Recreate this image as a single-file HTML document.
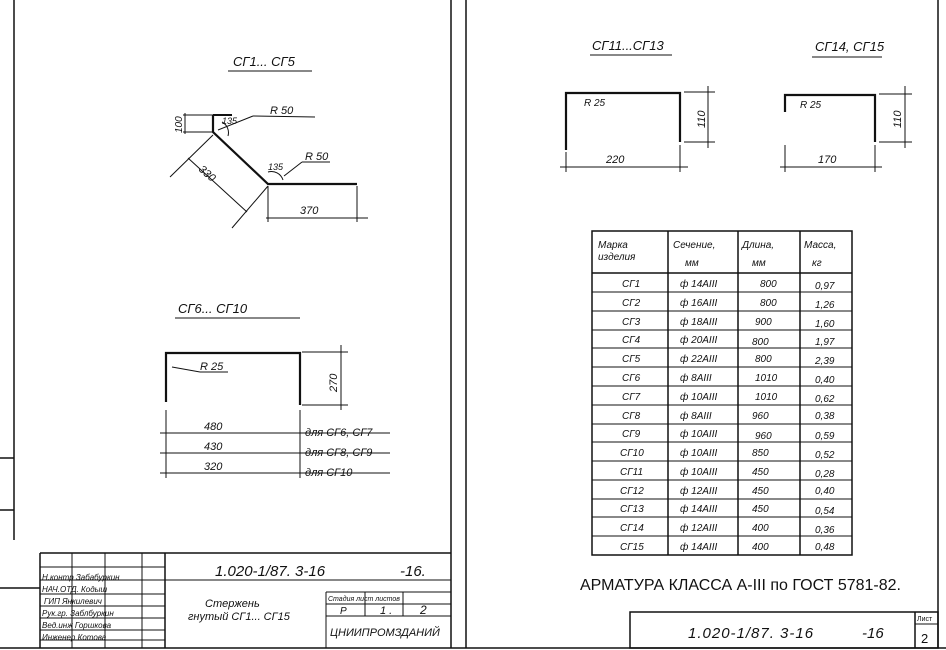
<!DOCTYPE html>
<html><head><meta charset="utf-8"><style>
html,body{margin:0;padding:0;background:#fff;}
svg{display:block;font-family:"Liberation Sans",sans-serif;font-style:italic;}
text{fill:#111;}
</style></head><body>
<svg width="946" height="650" viewBox="0 0 946 650" xmlns="http://www.w3.org/2000/svg">
<g stroke="#111" fill="none" stroke-width="1.5">
<line x1="14" y1="0" x2="14" y2="540"/>
<line x1="40" y1="553" x2="40" y2="648"/>
<line x1="451" y1="0" x2="451" y2="648"/>
<line x1="466" y1="0" x2="466" y2="648"/>
<line x1="938" y1="0" x2="938" y2="648"/>
<line x1="0" y1="648" x2="946" y2="648"/>
<line x1="0" y1="588" x2="40" y2="588"/>
<line x1="0" y1="458" x2="14" y2="458"/>
<line x1="0" y1="510" x2="14" y2="510"/>
<line x1="228" y1="71" x2="312" y2="71" stroke-width="1"/>
<polyline points="213,115 213,132 268,184 357,184" stroke-width="2.2"/>
<line x1="213" y1="115" x2="232" y2="115" stroke-width="2"/>
<line x1="185" y1="113" x2="185" y2="134" stroke-width="1"/>
<line x1="183" y1="115" x2="213" y2="115" stroke-width="1"/>
<line x1="183" y1="132" x2="213" y2="132" stroke-width="1"/>
<line x1="170" y1="177" x2="213" y2="135" stroke-width="1"/>
<line x1="232" y1="228" x2="268" y2="186" stroke-width="1"/>
<line x1="188" y1="158" x2="247" y2="212" stroke-width="1"/>
<line x1="268" y1="186" x2="268" y2="222" stroke-width="1"/>
<line x1="357" y1="186" x2="357" y2="222" stroke-width="1"/>
<line x1="266" y1="218" x2="368" y2="218" stroke-width="1"/>
<line x1="218" y1="130" x2="253" y2="116" stroke-width="1"/>
<line x1="253" y1="116" x2="315" y2="117" stroke-width="1"/>
<line x1="284" y1="176" x2="302" y2="162" stroke-width="1"/>
<line x1="302" y1="162" x2="330" y2="162" stroke-width="1"/>
<path d="M268,172 A12,12 0 0 1 283,180" stroke-width="1"/>
<path d="M222,122 A12,12 0 0 1 228,136" stroke-width="1"/>
<line x1="175" y1="318" x2="300" y2="318" stroke-width="1"/>
<polyline points="166,402 166,353 300,353 300,405" stroke-width="2.2"/>
<line x1="302" y1="352" x2="348" y2="352" stroke-width="1"/>
<line x1="302" y1="405" x2="348" y2="405" stroke-width="1"/>
<line x1="341" y1="345" x2="341" y2="410" stroke-width="1"/>
<line x1="172" y1="367" x2="200" y2="372" stroke-width="1"/>
<line x1="200" y1="372" x2="228" y2="372" stroke-width="1"/>
<line x1="160" y1="433" x2="390" y2="433" stroke-width="1"/>
<line x1="160" y1="453" x2="390" y2="453" stroke-width="1"/>
<line x1="160" y1="473" x2="390" y2="473" stroke-width="1"/>
<line x1="166" y1="410" x2="166" y2="478" stroke-width="1"/>
<line x1="300" y1="410" x2="300" y2="478" stroke-width="1"/>
<line x1="590" y1="55" x2="672" y2="55" stroke-width="1"/>
<polyline points="566,150 566,93 680,93 680,142" stroke-width="2.2"/>
<line x1="684" y1="92" x2="715" y2="92" stroke-width="1"/>
<line x1="684" y1="142" x2="715" y2="142" stroke-width="1"/>
<line x1="708" y1="86" x2="708" y2="148" stroke-width="1"/>
<line x1="566" y1="152" x2="566" y2="172" stroke-width="1"/>
<line x1="680" y1="145" x2="680" y2="172" stroke-width="1"/>
<line x1="560" y1="167" x2="688" y2="167" stroke-width="1"/>
<line x1="812" y1="57" x2="882" y2="57" stroke-width="1"/>
<polyline points="785,112 785,95 875,95 875,142" stroke-width="2.2"/>
<line x1="879" y1="94" x2="912" y2="94" stroke-width="1"/>
<line x1="879" y1="142" x2="912" y2="142" stroke-width="1"/>
<line x1="905" y1="86" x2="905" y2="148" stroke-width="1"/>
<line x1="785" y1="145" x2="785" y2="172" stroke-width="1"/>
<line x1="875" y1="145" x2="875" y2="172" stroke-width="1"/>
<line x1="780" y1="167" x2="882" y2="167" stroke-width="1"/>
<rect x="592" y="231" width="260" height="324" stroke-width="1.5"/>
<line x1="668" y1="231" x2="668" y2="555"/><line x1="738" y1="231" x2="738" y2="555"/><line x1="800" y1="231" x2="800" y2="555"/>
<line x1="592" y1="273" x2="852" y2="273"/>
<g stroke-width="1">
<line x1="592" y1="292" x2="852" y2="292"/><line x1="592" y1="311" x2="852" y2="311"/><line x1="592" y1="330" x2="852" y2="330"/>
<line x1="592" y1="348" x2="852" y2="348"/><line x1="592" y1="367" x2="852" y2="367"/><line x1="592" y1="386" x2="852" y2="386"/>
<line x1="592" y1="405" x2="852" y2="405"/><line x1="592" y1="424" x2="852" y2="424"/><line x1="592" y1="442" x2="852" y2="442"/>
<line x1="592" y1="461" x2="852" y2="461"/><line x1="592" y1="480" x2="852" y2="480"/><line x1="592" y1="499" x2="852" y2="499"/>
<line x1="592" y1="517" x2="852" y2="517"/><line x1="592" y1="536" x2="852" y2="536"/>
</g>
<rect x="630" y="612" width="308" height="36"/>
<line x1="915" y1="612" x2="915" y2="648"/>
<line x1="915" y1="624" x2="938" y2="624" stroke-width="1"/>
<line x1="40" y1="553" x2="451" y2="553"/>
<line x1="165" y1="553" x2="165" y2="648"/>
<line x1="40" y1="567" x2="165" y2="567" stroke-width="1"/>
<line x1="40" y1="580" x2="451" y2="580" stroke-width="1"/>
<line x1="72" y1="553" x2="72" y2="648" stroke-width="1"/>
<line x1="105" y1="553" x2="105" y2="648" stroke-width="1"/>
<line x1="142" y1="553" x2="142" y2="648" stroke-width="1"/>
<line x1="40" y1="594" x2="165" y2="594" stroke-width="1"/>
<line x1="40" y1="606" x2="165" y2="606" stroke-width="1"/>
<line x1="40" y1="618" x2="165" y2="618" stroke-width="1"/>
<line x1="40" y1="630" x2="165" y2="630" stroke-width="1"/>
<line x1="40" y1="640" x2="165" y2="640" stroke-width="1"/>
<line x1="326" y1="592" x2="451" y2="592" stroke-width="1"/>
<line x1="326" y1="604" x2="451" y2="604" stroke-width="1"/>
<line x1="326" y1="616" x2="451" y2="616" stroke-width="1"/>
<line x1="326" y1="592" x2="326" y2="648" stroke-width="1"/>
<line x1="365" y1="592" x2="365" y2="616" stroke-width="1"/>
<line x1="403" y1="592" x2="403" y2="616" stroke-width="1"/>
</g>
<g font-size="13">
<text x="233" y="66">СГ1... СГ5</text>
<text x="270" y="114" font-size="11">R 50</text>
<text x="305" y="160" font-size="11">R 50</text>
<text x="222" y="124" font-size="9">135</text>
<text x="268" y="170" font-size="9">135</text>
<text x="182" y="133" font-size="10" transform="rotate(-90 182 133)">100</text>
<text x="198" y="170" font-size="11" transform="rotate(42 198 170)">330</text>
<text x="300" y="214" font-size="11">370</text>
<text x="178" y="313">СГ6... СГ10</text>
<text x="200" y="370" font-size="11">R 25</text>
<text x="337" y="392" font-size="11" transform="rotate(-90 337 392)">270</text>
<text x="204" y="430" font-size="11">480</text>
<text x="204" y="450" font-size="11">430</text>
<text x="204" y="470" font-size="11">320</text>
<text x="305" y="436" font-size="11">для СГ6, СГ7</text>
<text x="305" y="456" font-size="11">для СГ8, СГ9</text>
<text x="305" y="476" font-size="11">для СГ10</text>
<text x="592" y="50">СГ11...СГ13</text>
<text x="584" y="106" font-size="10">R 25</text>
<text x="705" y="128" font-size="11" transform="rotate(-90 705 128)">110</text>
<text x="606" y="163" font-size="11">220</text>
<text x="815" y="51">СГ14, СГ15</text>
<text x="800" y="108" font-size="10">R 25</text>
<text x="901" y="128" font-size="11" transform="rotate(-90 901 128)">110</text>
<text x="818" y="163" font-size="11">170</text>
</g>
<g font-size="10">
<text x="598" y="248">Марка</text><text x="598" y="260">изделия</text>
<text x="673" y="248">Сечение,</text><text x="685" y="266">мм</text>
<text x="742" y="248">Длина,</text><text x="752" y="266">мм</text>
<text x="804" y="248">Масса,</text><text x="812" y="266">кг</text>
</g>
<g font-size="10">
<text x="622" y="287">СГ1</text><text x="680" y="287">ф 14АIII</text><text x="760" y="287">800</text><text x="815" y="289">0,97</text>
<text x="622" y="306">СГ2</text><text x="680" y="306">ф 16АIII</text><text x="760" y="306">800</text><text x="815" y="308">1,26</text>
<text x="622" y="325">СГ3</text><text x="680" y="325">ф 18АIII</text><text x="755" y="325">900</text><text x="815" y="327">1,60</text>
<text x="622" y="343">СГ4</text><text x="680" y="343">ф 20АIII</text><text x="752" y="345">800</text><text x="815" y="345">1,97</text>
<text x="622" y="362">СГ5</text><text x="680" y="362">ф 22АIII</text><text x="755" y="362">800</text><text x="815" y="364">2,39</text>
<text x="622" y="381">СГ6</text><text x="680" y="381">ф 8АIII</text><text x="755" y="381">1010</text><text x="815" y="383">0,40</text>
<text x="622" y="400">СГ7</text><text x="680" y="400">ф 10АIII</text><text x="755" y="400">1010</text><text x="815" y="402">0,62</text>
<text x="622" y="419">СГ8</text><text x="680" y="419">ф 8АIII</text><text x="752" y="419">960</text><text x="815" y="419">0,38</text>
<text x="622" y="437">СГ9</text><text x="680" y="437">ф 10АIII</text><text x="755" y="439">960</text><text x="815" y="439">0,59</text>
<text x="620" y="456">СГ10</text><text x="680" y="456">ф 10АIII</text><text x="752" y="456">850</text><text x="815" y="458">0,52</text>
<text x="620" y="475">СГ11</text><text x="680" y="475">ф 10АIII</text><text x="752" y="475">450</text><text x="815" y="477">0,28</text>
<text x="620" y="494">СГ12</text><text x="680" y="494">ф 12АIII</text><text x="752" y="494">450</text><text x="815" y="494">0,40</text>
<text x="620" y="512">СГ13</text><text x="680" y="512">ф 14АIII</text><text x="752" y="512">450</text><text x="815" y="514">0,54</text>
<text x="620" y="531">СГ14</text><text x="680" y="531">ф 12АIII</text><text x="752" y="531">400</text><text x="815" y="533">0,36</text>
<text x="620" y="550">СГ15</text><text x="680" y="550">ф 14АIII</text><text x="752" y="550">400</text><text x="815" y="550">0,48</text>
</g>
<text x="580" y="590" font-size="16" font-style="normal">АРМАТУРА КЛАССА А-III по ГОСТ 5781-82.</text>
<text x="688" y="638" font-size="15" letter-spacing="1">1.020-1/87.  3-16</text>
<text x="862" y="638" font-size="15">-16</text>
<text x="917" y="621" font-size="7" font-style="normal">Лист</text>
<text x="921" y="643" font-size="13" font-style="normal">2</text>
<text x="215" y="576" font-size="15">1.020-1/87. 3-16</text>
<text x="400" y="576" font-size="15">-16.</text>
<g font-size="8">
<text x="42" y="580">Н.контр Забабуркин</text>
<text x="42" y="592">НАЧ.ОТД. Кодыш</text>
<text x="44" y="604">ГИП   Янкилевич</text>
<text x="42" y="616">Рук.гр.  Заблбуркин</text>
<text x="42" y="628">Вед.инж Горшкова</text>
<text x="42" y="640">Инженер Котова</text>
<text x="328" y="601" font-size="7">Стадия  лист  листов</text>
</g>
<text x="340" y="614" font-size="10">Р</text>
<text x="380" y="614" font-size="11">1 .</text>
<text x="420" y="614" font-size="12">2</text>
<text x="205" y="607" font-size="11">Стержень</text>
<text x="188" y="620" font-size="11">гнутый СГ1... СГ15</text>
<text x="330" y="636" font-size="11">ЦНИИПРОМЗДАНИЙ</text>
</svg>
</body></html>
